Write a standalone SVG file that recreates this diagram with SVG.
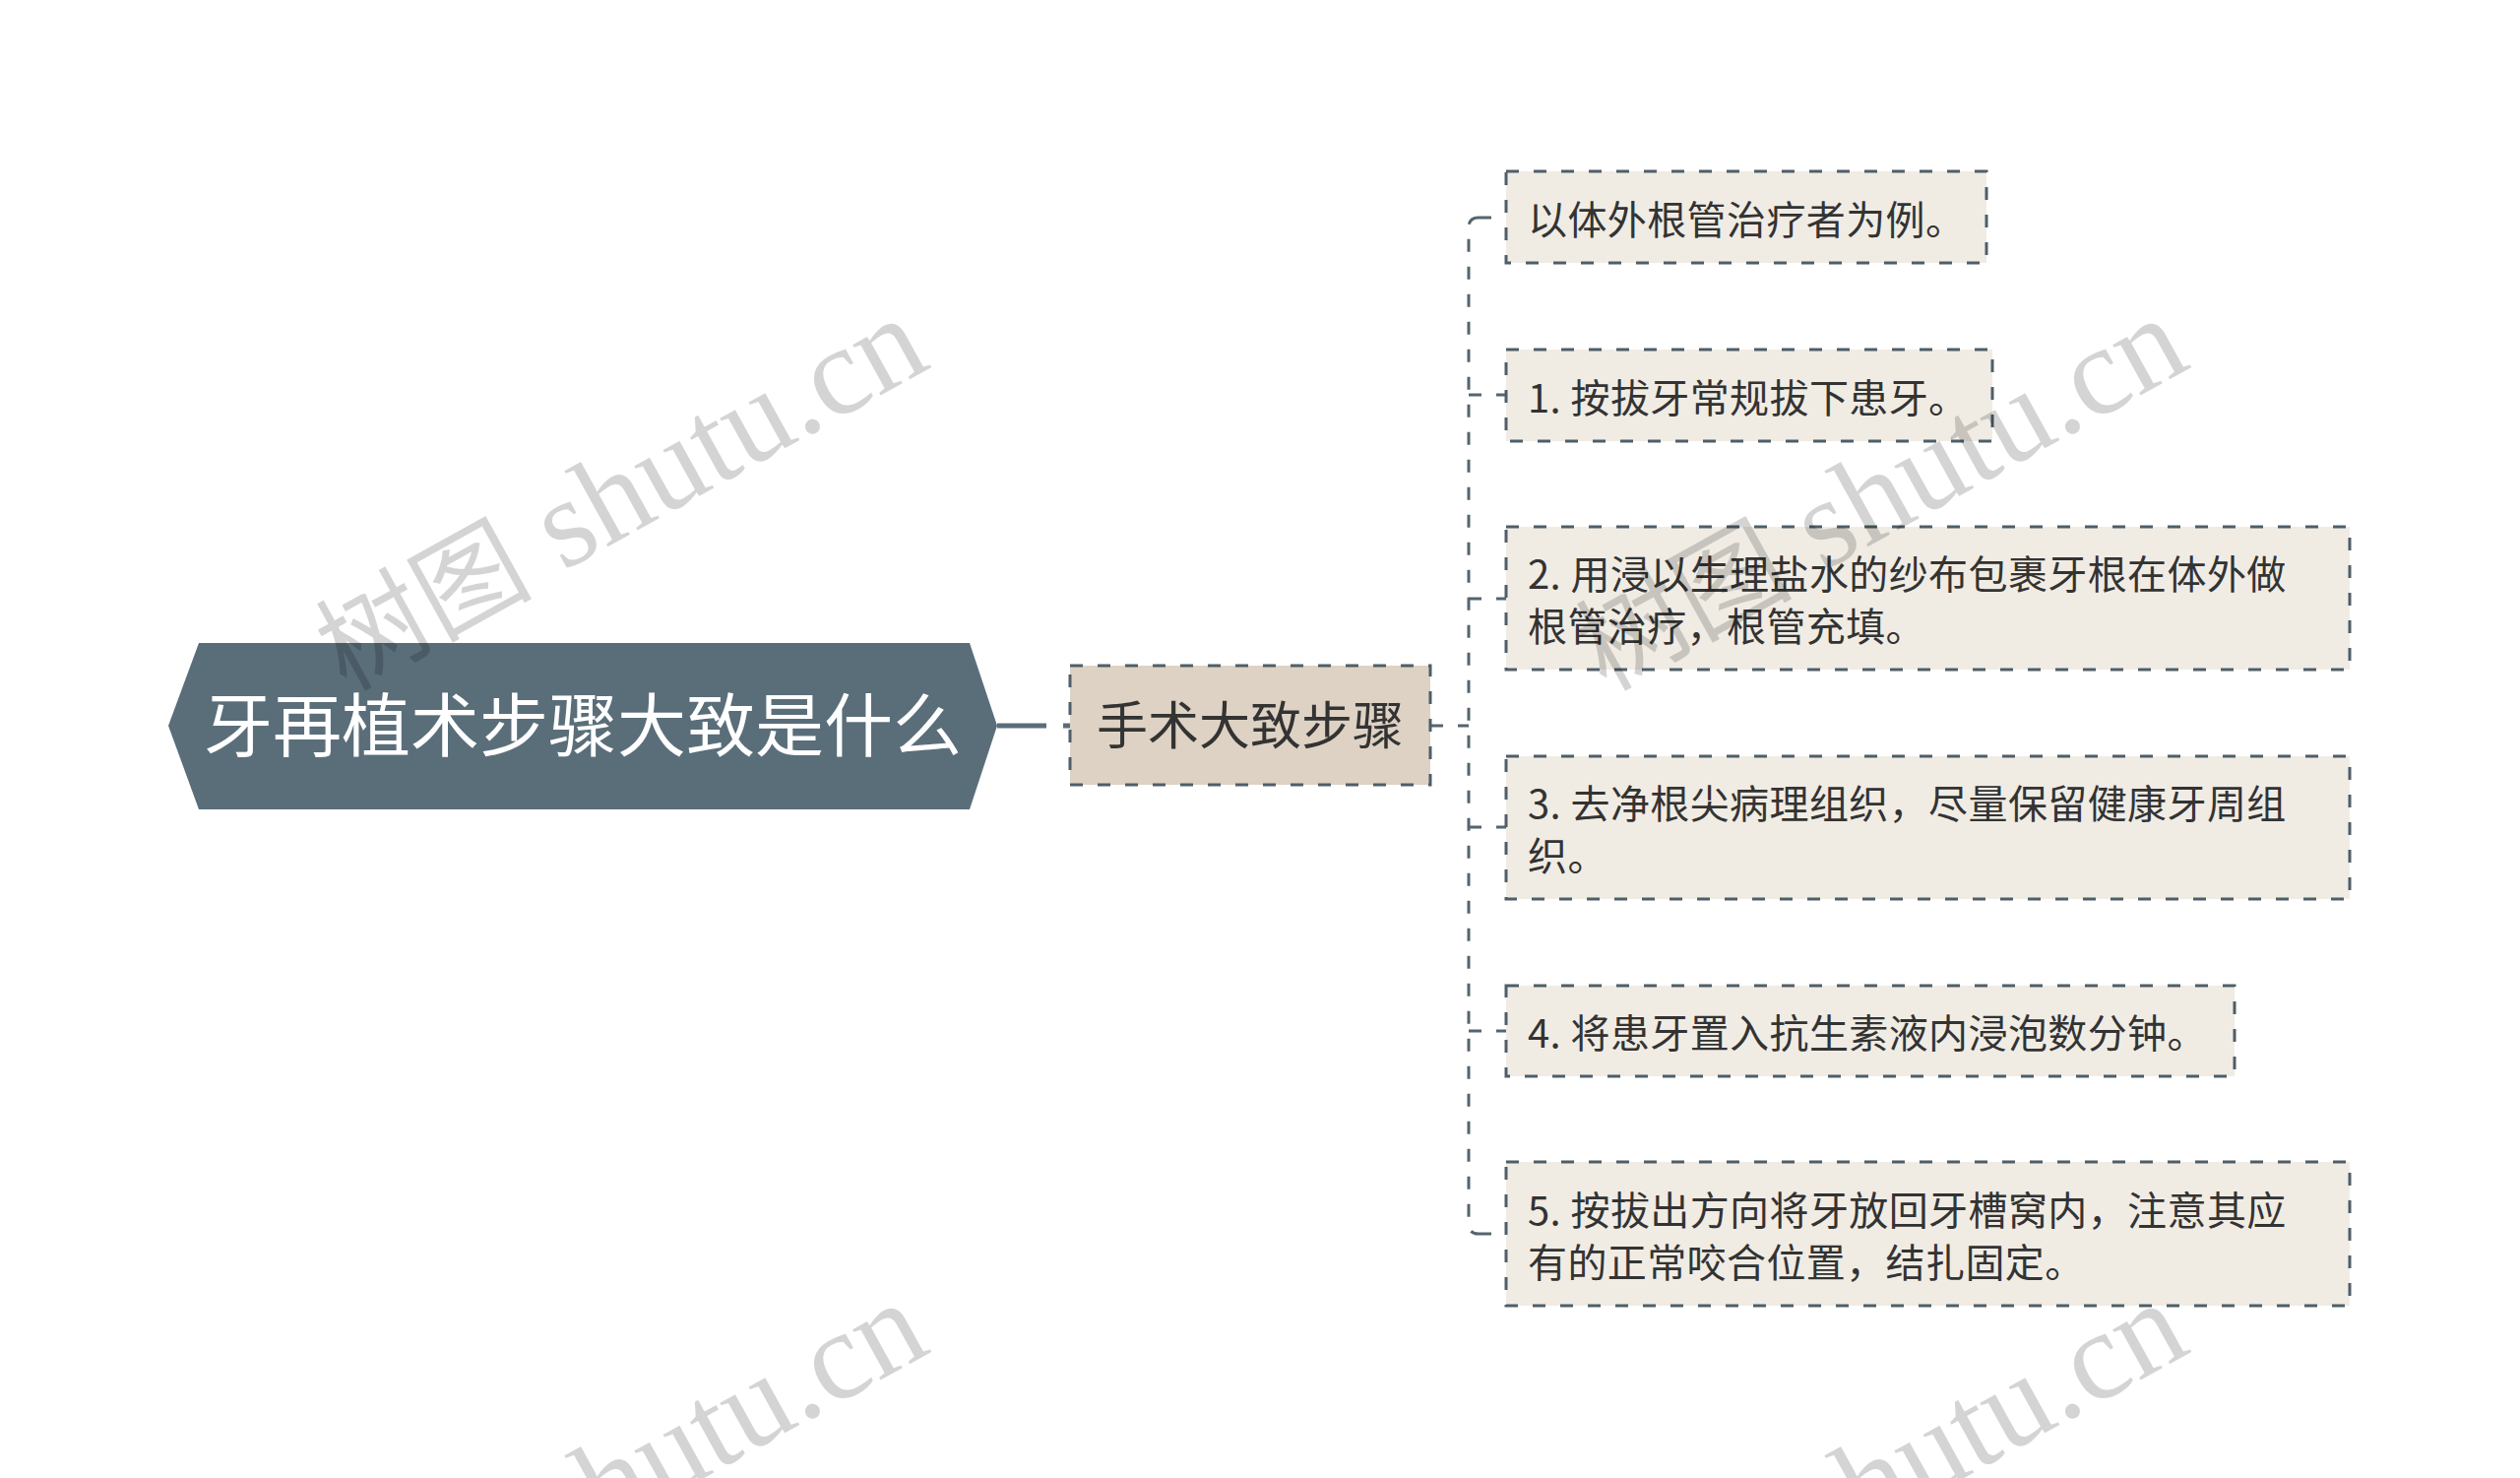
<svg xmlns="http://www.w3.org/2000/svg" width="2560" height="1501" viewBox="0 0 2560 1501">
<style>
.leaf{fill:#f0ece4;stroke:#4f5e68;stroke-width:3;stroke-dasharray:13 15}
.mid{fill:#ddd2c3;stroke:#4f5e68;stroke-width:3;stroke-dasharray:13 15}
.lt{font-family:"Noto Sans CJK SC","Noto Sans",sans-serif;font-size:40px;letter-spacing:0.4px;fill:#333333}
.mt{font-family:"Noto Sans CJK SC","Noto Sans",sans-serif;font-size:52px;fill:#333333;text-anchor:middle}
.rt{font-family:"Noto Sans CJK SC","Noto Sans",sans-serif;font-size:70px;fill:#ffffff;text-anchor:middle}
.con{fill:none;stroke:#55646e;stroke-width:3;stroke-dasharray:13 15}
.wm{font-family:"Liberation Serif","Noto Sans CJK SC",serif;font-size:128px;fill:#000000;fill-opacity:0.17;text-anchor:end}
</style>
<rect width="2560" height="1501" fill="#ffffff"/>
<g id="connectors">
<path d="M1013,737 H1087" fill="none" stroke="#5a6e7a" stroke-width="5" stroke-dasharray="50 17"/>
<path class="con" d="M1453,737 H1492"/>
<path class="con" d="M1502,221 Q1492,221 1492,231 V1243 Q1492,1253 1502,1253"/>
<path class="con" d="M1502,221 H1530"/>
<path class="con" d="M1492,401 H1530"/>
<path class="con" d="M1492,608 H1530"/>
<path class="con" d="M1492,840 H1530"/>
<path class="con" d="M1492,1047 H1530"/>
<path class="con" d="M1502,1253 H1530"/>
</g>
<g id="root">
<polygon points="171,737 202,653 985,653 1013,737 985,822 202,822" fill="#5a6e7a"/>
<text class="rt" x="592" y="763">牙再植术步骤大致是什么</text>
</g>
<g id="mid">
<rect class="mid" x="1087" y="676" width="366" height="121"/>
<text class="mt" x="1270" y="756">手术大致步骤</text>
</g>
<g id="leaf0">
<rect class="leaf" x="1530" y="174" width="488" height="93"/>
<text class="lt" x="1552" y="238">以体外根管治疗者为例。</text>
</g>
<g id="leaf1">
<rect class="leaf" x="1530" y="355" width="494" height="93"/>
<text class="lt" x="1552" y="419">1. 按拔牙常规拔下患牙。</text>
</g>
<g id="leaf2">
<rect class="leaf" x="1530" y="535" width="857" height="145"/>
<text class="lt" x="1552" y="598">2. 用浸以生理盐水的纱布包裹牙根在体外做</text>
<text class="lt" x="1552" y="651">根管治疗，根管充填。</text>
</g>
<g id="leaf3">
<rect class="leaf" x="1530" y="768" width="857" height="145"/>
<text class="lt" x="1552" y="831">3. 去净根尖病理组织，尽量保留健康牙周组</text>
<text class="lt" x="1552" y="884">织。</text>
</g>
<g id="leaf4">
<rect class="leaf" x="1530" y="1001" width="740" height="92"/>
<text class="lt" x="1552" y="1064">4. 将患牙置入抗生素液内浸泡数分钟。</text>
</g>
<g id="leaf5">
<rect class="leaf" x="1530" y="1180" width="857" height="146"/>
<text class="lt" x="1552" y="1244">5. 按拔出方向将牙放回牙槽窝内，注意其应</text>
<text class="lt" x="1552" y="1297">有的正常咬合位置，结扎固定。</text>
</g>
<g id="watermarks">
<text class="wm" transform="translate(948,372) rotate(-29)"><tspan font-size="110" font-family="Noto Sans CJK SC, sans-serif">树图</tspan> shutu.cn</text>
<text class="wm" transform="translate(2228,372) rotate(-29)"><tspan font-size="110" font-family="Noto Sans CJK SC, sans-serif">树图</tspan> shutu.cn</text>
<text class="wm" transform="translate(948,1372) rotate(-29)"><tspan font-size="110" font-family="Noto Sans CJK SC, sans-serif">树图</tspan> shutu.cn</text>
<text class="wm" transform="translate(2228,1372) rotate(-29)"><tspan font-size="110" font-family="Noto Sans CJK SC, sans-serif">树图</tspan> shutu.cn</text>
</g>
</svg>
